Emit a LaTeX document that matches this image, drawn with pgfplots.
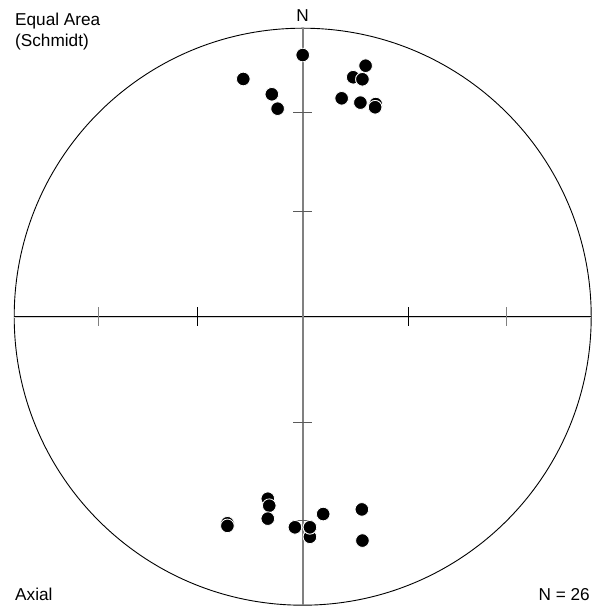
\documentclass[border=0pt]{standalone}
\usepackage{pgfplots}
\pgfplotsset{compat=1.18}
\usepackage{fontspec}
\setmainfont{Liberation Sans}
\definecolor{axgray}{HTML}{808080}
\begin{document}
\begin{tikzpicture}[x=1pt,y=1pt]
\useasboundingbox (0,0) rectangle (592,607);
\begin{axis}[
  hide axis, scale only axis,
  width=577pt, height=577pt,
  xmin=-1, xmax=1, ymin=-1, ymax=1,
  at={(302.7pt,290.3pt)}, anchor=origin,
  clip=false,
]
% primitive circle and cross
\draw[black, line width=0.9pt] (axis cs:0,0) circle [radius=1];
\draw[gray!35, line width=2.2pt] (axis cs:-1,-0.002) -- (axis cs:1,-0.002);
\draw[black, line width=0.8pt] (axis cs:-1,0.001) -- (axis cs:1,0.001);
\draw[axgray, line width=1.8pt] (axis cs:0,-1) -- (axis cs:0,1);
% ticks on E-W
\draw[black, line width=0.7pt] (axis cs:-0.366,-0.032) -- (axis cs:-0.366,0.032);
\draw[black, line width=0.7pt] (axis cs:0.366,-0.032) -- (axis cs:0.366,0.032);
\draw[axgray, line width=1.2pt] (axis cs:-0.707,-0.032) -- (axis cs:-0.707,0.032);
\draw[axgray, line width=1.2pt] (axis cs:0.707,-0.032) -- (axis cs:0.707,0.032);
% ticks on N-S
\draw[axgray!70!black, line width=1.1pt] (axis cs:-0.032,0.366) -- (axis cs:0.032,0.366);
\draw[axgray!70!black, line width=1.1pt] (axis cs:-0.032,-0.366) -- (axis cs:0.032,-0.366);
\draw[axgray!70!black, line width=1.1pt] (axis cs:-0.032,0.707) -- (axis cs:0.032,0.707);
\draw[axgray!70!black, line width=1.1pt] (axis cs:-0.032,-0.707) -- (axis cs:0.032,-0.707);
\addplot[only marks, mark=*, mark size=6.8pt,
  mark options={fill=black, draw=white, line width=0.8pt}]
coordinates {
(0.000,0.907)
(-0.206,0.824)
(-0.107,0.771)
(-0.087,0.721)
(0.175,0.830)
(0.218,0.870)
(0.207,0.823)
(0.207,0.823)
(0.135,0.757)
(0.200,0.742)
(0.253,0.737)
(0.251,0.726)
(0.251,0.726)
(-0.121,-0.631)
(-0.116,-0.655)
(-0.121,-0.700)
(-0.261,-0.716)
(-0.261,-0.725)
(-0.027,-0.730)
(-0.027,-0.730)
(0.025,-0.763)
(0.025,-0.730)
(0.025,-0.730)
(0.071,-0.684)
(0.205,-0.668)
(0.207,-0.776)
};
\end{axis}
\begin{scope}[font=\fontsize{17.2}{20}\selectfont]
\node[anchor=base west, inner sep=0pt] at (15,581.3) {Equal Area};
\node[anchor=base west, inner sep=0pt] at (15,560.5) {(Schmidt)};
\node[anchor=base, inner sep=0pt] at (302.7,585.3) {N};
\node[anchor=base west, inner sep=0pt] at (15,6.5) {Axial};
\node[anchor=base east, inner sep=0pt] at (590,6.5) {N = 26};
\end{scope}
\end{tikzpicture}
\end{document}
